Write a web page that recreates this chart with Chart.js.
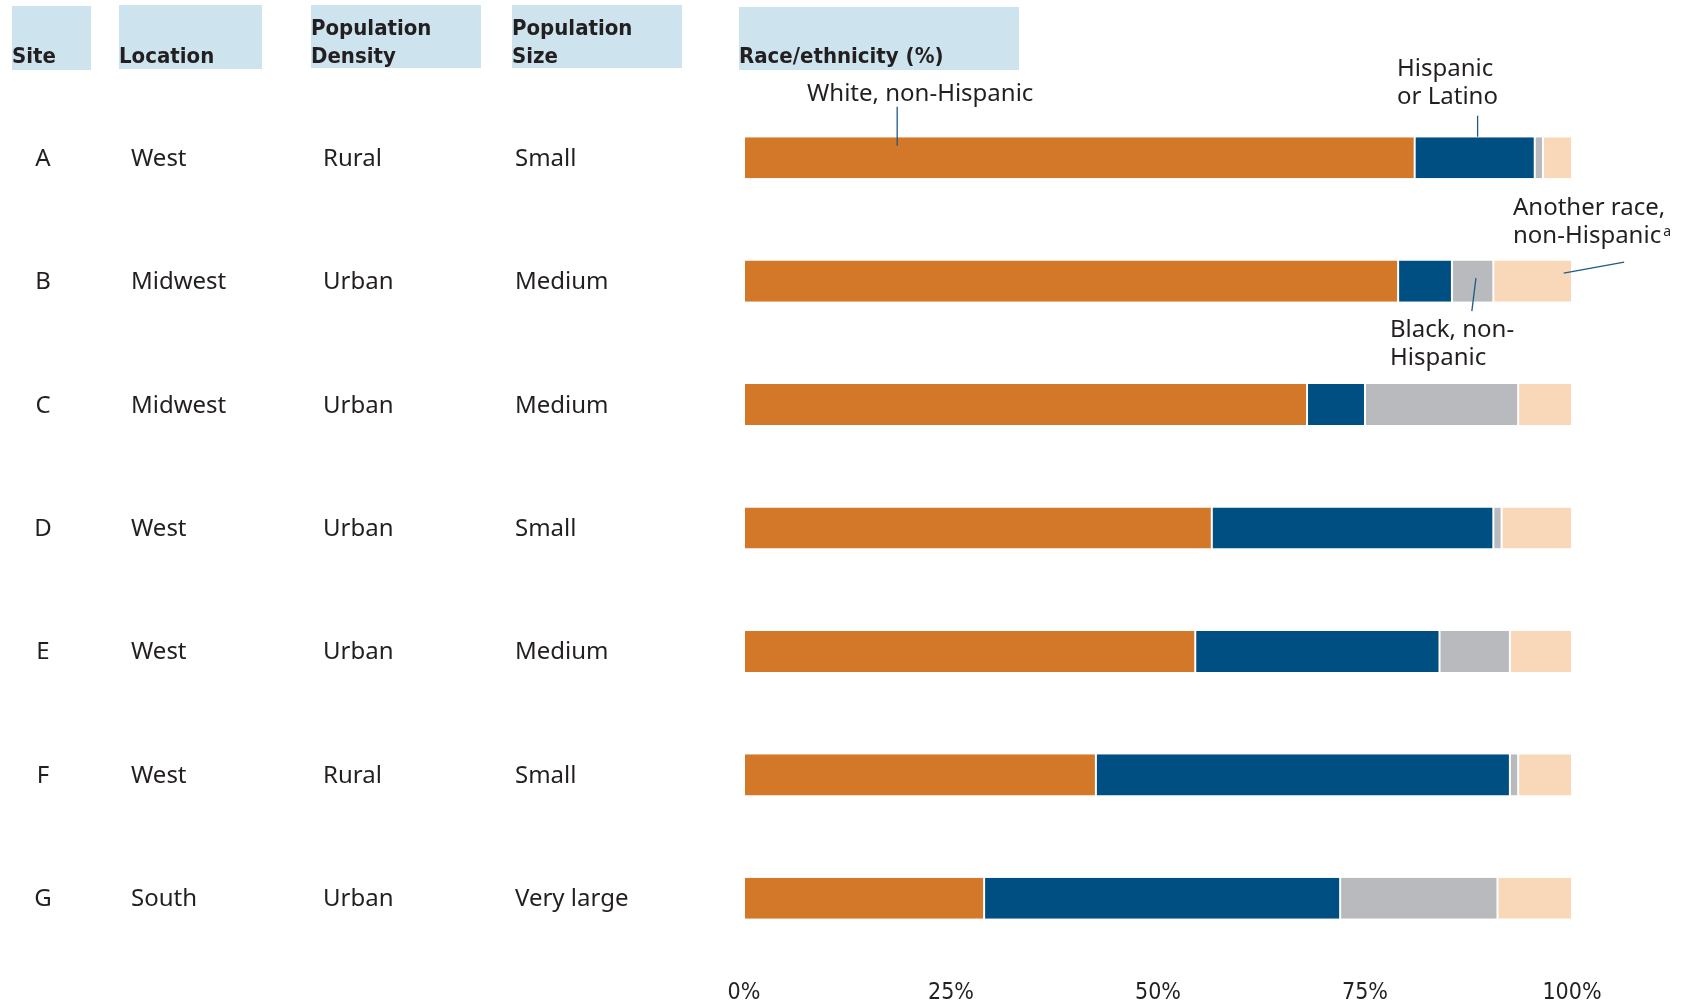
<!DOCTYPE html>
<html>
<head>
<meta charset="utf-8">
<script src="https://cdn.jsdelivr.net/npm/chart.js@4.4.1/dist/chart.umd.min.js"></script>
<style>
  html, body { margin: 0; padding: 0; background: #fff; }
  #wrap { position: relative; width: 1681px; height: 1006px; }
</style>
</head>
<body>
<div id="wrap"><canvas id="raceChart" width="1681" height="1006"></canvas></div>
<script>
var sites = ['A', 'B', 'C', 'D', 'E', 'F', 'G'];
var locations = ['West', 'Midwest', 'Midwest', 'West', 'West', 'West', 'South'];
var densities = ['Rural', 'Urban', 'Urban', 'Urban', 'Urban', 'Rural', 'Urban'];
var sizes = ['Small', 'Medium', 'Medium', 'Small', 'Medium', 'Small', 'Very large'];

// race/ethnicity shares (%) per site
var white = [81, 79, 68, 56.5, 54.5, 42.5, 29];
var hispanic = [14.5, 6.5, 7, 34, 29.5, 50, 43];
var black = [1, 5, 18.5, 1, 8.5, 1, 19];
var another = [3.5, 9.5, 6.5, 8.5, 7.5, 6.5, 9];

var xTicks = [0, 25, 50, 75, 100];

var textColor = '#231f20';
var lineColor = '#1d5a87';
var headFont = '"DejaVu Sans Condensed", "DejaVu Sans", sans-serif';
var bodyFont = '"Noto Sans", "Open Sans", sans-serif';

function seg(label, data, color) {
  return {
    label: label,
    data: data,
    backgroundColor: color,
    borderColor: '#ffffff',
    borderWidth: { left: 1, right: 1, top: 0, bottom: 0 },
    borderSkipped: false,
    categoryPercentage: 1,
    barPercentage: 0.333
  };
}

// draws the left table, column headers and the callout labels
var tablePlugin = {
  id: 'tableText',
  afterDraw: function(chart) {
    var ctx = chart.ctx;
    var xs = chart.scales.x;
    var ys = chart.scales.y;
    ctx.save();

    // header boxes
    ctx.fillStyle = '#cde4ee';
    ctx.fillRect(12, 6, 79, 64);
    ctx.fillRect(119, 5, 143, 64);
    ctx.fillRect(311, 5, 170, 63);
    ctx.fillRect(512, 5, 170, 63);
    ctx.fillRect(739, 7, 280, 63);

    ctx.fillStyle = textColor;
    ctx.textBaseline = 'alphabetic';
    ctx.textAlign = 'left';
    ctx.font = 'bold 22px ' + headFont;
    ctx.fillText('Site', 12, 63);
    ctx.fillText('Location', 119, 63);
    ctx.fillText('Population', 311, 35);
    ctx.fillText('Density', 311, 63);
    ctx.fillText('Population', 512, 35);
    ctx.fillText('Size', 512, 63);
    ctx.fillText('Race/ethnicity (%)', 739, 63);

    // table rows
    ctx.font = '24px ' + bodyFont;
    for (var i = 0; i < sites.length; i++) {
      var cy = ys.getPixelForValue(i) + 8;
      ctx.textAlign = 'center';
      ctx.fillText(sites[i], 43, cy);
      ctx.textAlign = 'left';
      ctx.fillText(locations[i], 131, cy);
      ctx.fillText(densities[i], 323, cy);
      ctx.fillText(sizes[i], 515, cy);
    }

    // callouts
    var rowA = ys.getPixelForValue(0);
    var rowB = ys.getPixelForValue(1);
    ctx.textAlign = 'left';
    ctx.fillText('White, non-Hispanic', 807, rowA - 57);
    ctx.fillText('Hispanic', 1397, rowA - 82);
    ctx.fillText('or Latino', 1397, rowA - 54);
    ctx.fillText('Another race,', 1513, rowB - 66);
    ctx.fillText('non-Hispanic', 1513, rowB - 38);
    var w = ctx.measureText('non-Hispanic').width;
    ctx.font = '14px ' + bodyFont;
    ctx.fillText('a', 1513 + w + 2, rowB - 45);
    ctx.font = '24px ' + bodyFont;
    ctx.fillText('Black, non-', 1390, rowB + 56);
    ctx.fillText('Hispanic', 1390, rowB + 84);

    ctx.strokeStyle = lineColor;
    ctx.lineWidth = 1.3;
    function line(x1, y1, x2, y2) {
      ctx.beginPath();
      ctx.moveTo(x1, y1);
      ctx.lineTo(x2, y2);
      ctx.stroke();
    }
    line(xs.getPixelForValue(18.5), rowA - 51, xs.getPixelForValue(18.5), rowA - 12);
    line(xs.getPixelForValue(88.6), rowA - 42, xs.getPixelForValue(88.6), rowA - 21);
    line(xs.getPixelForValue(99), rowB - 8, xs.getPixelForValue(106.3), rowB - 19);
    line(xs.getPixelForValue(88.4), rowB - 3, xs.getPixelForValue(87.9), rowB + 30);

    ctx.restore();
  }
};

var ctx = document.getElementById('raceChart');
var raceChart = new Chart(ctx, {
  type: 'bar',
  data: {
    labels: sites,
    datasets: [
      seg('White, non-Hispanic', white, '#d37728'),
      seg('Hispanic or Latino', hispanic, '#004f82'),
      seg('Black, non-Hispanic', black, '#b9babd'),
      seg('Another race, non-Hispanic', another, '#f9d8ba')
    ]
  },
  options: {
    indexAxis: 'y',
    responsive: false,
    animation: false,
    layout: { padding: { left: 744, right: 109, top: 96, bottom: 0 } },
    plugins: {
      legend: { display: false },
      tooltip: { enabled: false }
    },
    scales: {
      x: {
        stacked: true,
        min: 0,
        max: 100,
        afterBuildTicks: function(axis) {
          axis.ticks = xTicks.map(function(v) { return { value: v }; });
        },
        afterFit: function(axis) {
          axis.height = 46;
        },
        grid: { display: false, drawTicks: false },
        border: { display: false },
        ticks: {
          padding: 19,
          color: textColor,
          maxRotation: 0,
          font: { family: headFont, size: 23 },
          callback: function(v) { return v + '%'; }
        }
      },
      y: {
        stacked: true,
        display: false
      }
    }
  },
  plugins: [tablePlugin]
});
</script>
</body>
</html>
